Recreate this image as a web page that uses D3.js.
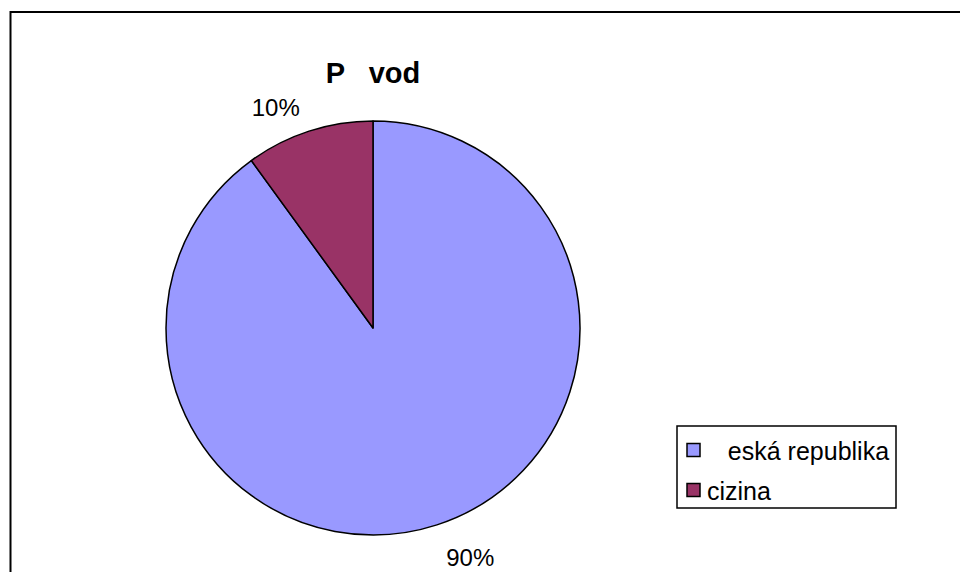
<!DOCTYPE html>
<html><head><meta charset="utf-8">
<script src="https://cdn.jsdelivr.net/npm/d3@7"></script>
<style>body{margin:0;background:#fff}svg{display:block}text{font-family:"Liberation Sans",Arial,sans-serif;white-space:pre}</style>
</head><body><svg id="c" width="960" height="572"></svg>
<script>
const categories = ["   eská republika", "cizina"];
const values = [90, 10];
const percentLabels = ["90%", "10%"];
const colors = ["#9999FF", "#993366"];
const title = "P   vod";

const svg = d3.select("#c");
svg.append("rect").attr("x", 10.5).attr("y", 12).attr("width", 1000).attr("height", 600)
  .attr("fill", "#fff").attr("stroke", "#000").attr("stroke-width", 2);

const cx = 373, cy = 328, r = 207;
const pie = d3.pie().sort(null).value(d => d)(values);
const arc = d3.arc().innerRadius(0).outerRadius(r);
const g = svg.append("g").attr("transform", `translate(${cx},${cy})`);
g.selectAll("path").data(pie).join("path")
  .attr("d", arc).attr("fill", (d, i) => colors[i])
  .attr("stroke", "#000").attr("stroke-width", 1.5).attr("stroke-linejoin", "round");

const labelArc = d3.arc().innerRadius(r + 30).outerRadius(r + 30);
g.selectAll("text.pl").data(pie).join("text").attr("class", "pl")
  .attr("x", d => labelArc.centroid(d)[0])
  .attr("y", d => labelArc.centroid(d)[1] + 13)
  .attr("text-anchor", d => labelArc.centroid(d)[0] >= 0 ? "start" : "end")
  .attr("font-size", 24).text((d, i) => percentLabels[i]);

svg.append("text").attr("x", 373).attr("y", 83).attr("text-anchor", "middle")
  .attr("font-size", 29).attr("font-weight", "bold").text(title);

const lg = svg.append("g");
lg.append("rect").attr("x", 677).attr("y", 426).attr("width", 219).attr("height", 82)
  .attr("fill", "#fff").attr("stroke", "#000").attr("stroke-width", 1.5);
const ly = d3.scalePoint().domain(categories).range([450, 490]);
categories.forEach((c, i) => {
  lg.append("rect").attr("x", 687).attr("y", ly(c) - 6.5).attr("width", 13).attr("height", 13)
    .attr("fill", colors[i]).attr("stroke", "#000").attr("stroke-width", 1.5);
  lg.append("text").attr("x", 707).attr("y", ly(c) + 9.5)
    .attr("font-size", 25).text(c);
});
</script></body></html>
